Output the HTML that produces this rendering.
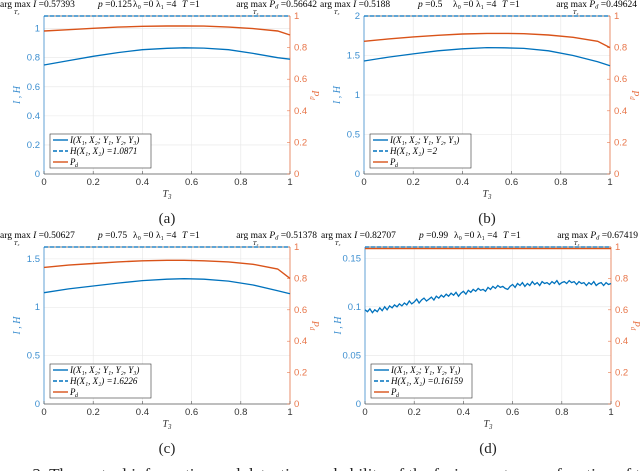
<!DOCTYPE html>
<html><head><meta charset="utf-8"><style>
html,body{margin:0;padding:0;background:#fff;width:640px;height:471px;overflow:hidden}
svg{display:block}
text{font-family:"Liberation Serif",serif}
.tk{font-family:"Liberation Sans",sans-serif;font-size:9.5px}
</style></head><body>
<svg id="fig" width="640" height="471" viewBox="0 0 640 471" xmlns="http://www.w3.org/2000/svg">
<text x="320" y="480" font-size="17" text-anchor="middle" fill="#222">Figure 3. The mutual information and detection probability of the fusion center as a function of the</text>
</svg>
<script>
const xsA=[0,0.1,0.2,0.3,0.4,0.5,0.57,0.65,0.75,0.85,0.95,1];
const iA=[0.75,0.78,0.81,0.835,0.855,0.865,0.868,0.866,0.855,0.83,0.80,0.79];
const pA=[0.905,0.913,0.922,0.93,0.935,0.937,0.937,0.936,0.93,0.92,0.905,0.88];
const iB=[1.43,1.48,1.52,1.56,1.585,1.6,1.598,1.59,1.56,1.5,1.42,1.37];
const pB=[0.84,0.855,0.868,0.878,0.886,0.89,0.89,0.888,0.88,0.865,0.84,0.80];
const iC=[1.15,1.19,1.22,1.25,1.275,1.29,1.295,1.29,1.27,1.23,1.17,1.14];
const pC=[0.87,0.885,0.895,0.905,0.912,0.915,0.915,0.912,0.905,0.89,0.86,0.80];
const xsD=[0,0.01,0.02,0.03,0.04,0.05,0.06,0.07,0.08,0.09,0.1,0.11,0.12,0.13,0.14,0.15,0.16,0.17,0.18,0.19,0.2,0.21,0.22,0.23,0.24,0.25,0.26,0.27,0.28,0.29,0.3,0.31,0.32,0.33,0.34,0.35,0.36,0.37,0.38,0.39,0.4,0.41,0.42,0.43,0.44,0.45,0.46,0.47,0.48,0.49,0.5,0.51,0.52,0.53,0.54,0.55,0.56,0.57,0.58,0.59,0.6,0.61,0.62,0.63,0.64,0.65,0.66,0.67,0.68,0.69,0.7,0.71,0.72,0.73,0.74,0.75,0.76,0.77,0.78,0.79,0.8,0.81,0.82,0.83,0.84,0.85,0.86,0.87,0.88,0.89,0.9,0.91,0.92,0.93,0.94,0.95,0.96,0.97,0.98,0.99,1];
const iD=[0.097,0.095,0.098,0.094,0.097,0.095,0.099,0.096,0.1,0.097,0.101,0.099,0.102,0.1,0.103,0.101,0.104,0.102,0.106,0.103,0.105,0.108,0.104,0.107,0.109,0.106,0.108,0.11,0.107,0.111,0.109,0.112,0.11,0.113,0.111,0.114,0.112,0.115,0.111,0.114,0.116,0.113,0.117,0.115,0.118,0.116,0.119,0.117,0.118,0.116,0.12,0.118,0.121,0.119,0.122,0.12,0.121,0.119,0.118,0.121,0.123,0.12,0.124,0.122,0.125,0.121,0.124,0.122,0.126,0.123,0.125,0.122,0.126,0.124,0.125,0.123,0.126,0.124,0.127,0.123,0.125,0.126,0.124,0.127,0.125,0.126,0.123,0.126,0.124,0.125,0.122,0.125,0.123,0.126,0.122,0.124,0.125,0.122,0.125,0.123,0.124];
const xsD2=[0,0.1,0.2,0.3,0.4,0.5,0.6,0.7,0.8,0.9,1];
const pD=[0.99,0.99,0.99,0.99,0.99,0.99,0.99,0.99,0.99,0.99,0.99];
const panels=[
 {id:'a',x0:44,x1:290,y0:16,y1:174,ymax:1.0871,yt:[0,0.2,0.4,0.6,0.8,1],yl:['0','0.2','0.4','0.6','0.8','1'],xs:xsA,I:iA,pxs:xsA,P:pA,title:['0.57393','0.125','0.56642'],H:'1.0871',cap:'(a)'},
 {id:'b',x0:364,x1:610,y0:16,y1:174,ymax:2,yt:[0,0.5,1,1.5,2],yl:['0','0.5','1','1.5','2'],xs:xsA,I:iB,pxs:xsA,P:pB,title:['0.5188','0.5','0.49624'],H:'2',cap:'(b)'},
 {id:'c',x0:44,x1:290,y0:247,y1:404,ymax:1.6226,yt:[0,0.5,1,1.5],yl:['0','0.5','1','1.5'],xs:xsA,I:iC,pxs:xsA,P:pC,title:['0.50627','0.75','0.51378'],H:'1.6226',cap:'(c)'},
 {id:'d',x0:365,x1:611,y0:247,y1:404,ymax:0.16159,yt:[0,0.05,0.1,0.15],yl:['0','0.05','0.1','0.15'],xs:xsD,I:iD,pxs:xsD2,P:pD,title:['0.82707','0.99','0.67419'],H:'0.16159',cap:'(d)'}
];
const xt=[0,0.2,0.4,0.6,0.8,1],xl=['0','0.2','0.4','0.6','0.8','1'],rt=[0,0.2,0.4,0.6,0.8,1],rl=['0','0.2','0.4','0.6','0.8','1'];
const NS='http://www.w3.org/2000/svg',svg=document.getElementById('fig');
function mk(t,a,p,txt){const e=document.createElementNS(NS,t);for(const k in a)e.setAttribute(k,a[k]);if(txt!==undefined)e.textContent=txt;(p||svg).appendChild(e);return e;}
const BL='#0072BD',OR='#D95319',BLT='#3d8fd0',ORT='#e8764a';
panels.forEach(p=>{
 const g=mk('g',{});
 
 
 const X=v=>p.x0+v*(p.x1-p.x0), YL=v=>p.y1-v/p.ymax*(p.y1-p.y0), YR=v=>p.y1-v*(p.y1-p.y0);
 xt.forEach(v=>{const l=mk('line',{x1:X(v),x2:X(v),y1:p.y0,y2:p.y1,stroke:'#e6e6e6','stroke-width':0.6},g);});
 p.yt.forEach(v=>{const l=mk('line',{x1:p.x0,x2:p.x1,y1:YL(v),y2:YL(v),stroke:'#e6e6e6','stroke-width':0.6},g);});
 mk('line',{x1:p.x0,x2:p.x1,y1:p.y1,y2:p.y1,stroke:'#555','stroke-width':0.8},g);
 mk('line',{x1:p.x0,x2:p.x1,y1:p.y0,y2:p.y0,stroke:'#555','stroke-width':0.8},g);
 mk('line',{x1:p.x0,x2:p.x0,y1:p.y0,y2:p.y1,stroke:BLT,'stroke-width':0.8},g);
 mk('line',{x1:p.x1,x2:p.x1,y1:p.y0,y2:p.y1,stroke:ORT,'stroke-width':0.8},g);
 xt.forEach((v,i)=>{mk('line',{x1:X(v),x2:X(v),y1:p.y1,y2:p.y1-3,stroke:'#555','stroke-width':0.6},g);
  const t=mk('text',{x:X(v),y:p.y1+11,'text-anchor':'middle',class:'tk',fill:'#333'},g,xl[i]);});
 p.yt.forEach((v,i)=>{const t=mk('text',{x:p.x0-4,y:YL(v)+3,'text-anchor':'end',class:'tk',fill:BLT},g,p.yl[i]);});
 rt.forEach((v,i)=>{mk('line',{x1:p.x1,x2:p.x1-3,y1:YR(v),y2:YR(v),stroke:ORT,'stroke-width':0.6},g);
  const t=mk('text',{x:p.x1+4,y:YR(v)+3,class:'tk',fill:ORT},g,rl[i]);});
 let t=mk('text',{x:(p.x0+p.x1)/2,y:p.y1+23,'text-anchor':'middle','font-size':10,'font-style':'italic',fill:'#333'},g,'T');mk('tspan',{'font-size':7,dy:2},t,'3');
 
 t=mk('text',{transform:`translate(${p.x0-24},${(p.y0+p.y1)/2}) rotate(-90)`,'text-anchor':'middle','font-size':10,'font-style':'italic',fill:BLT},g,'I , H');
 
 t=mk('text',{transform:`translate(${p.x1+22},${(p.y0+p.y1)/2}) rotate(90)`,'text-anchor':'middle','font-size':10,'font-style':'italic',fill:ORT},g,'P');mk('tspan',{'font-size':7,dy:2},t,'d');
 
 const hl=mk('line',{x1:p.x0,x2:p.x1,y1:YL(p.ymax),y2:YL(p.ymax),stroke:BL,'stroke-width':1.3,'stroke-dasharray':'4,2'},g);
 
 const pd=mk('path',{d:p.pxs.map((v,i)=>(i?'L':'M')+X(v).toFixed(1)+','+YR(p.P[i]).toFixed(1)).join(''),fill:'none',stroke:OR,'stroke-width':1.4},g);
 
 const il=mk('path',{d:p.xs.map((v,i)=>(i?'L':'M')+X(v).toFixed(1)+','+YL(p.I[i]).toFixed(1)).join(''),fill:'none',stroke:BL,'stroke-width':1.3},g);
 
 const lx=p.x0+6,ly=p.y1-40;
 const lg=mk('g',{},g);
 mk('rect',{x:lx,y:ly,width:101,height:34,fill:'#fff',stroke:'#333','stroke-width':0.6},lg);
 mk('line',{x1:lx+3,x2:lx+18,y1:ly+6,y2:ly+6,stroke:BL,'stroke-width':1.4},lg);
 mk('line',{x1:lx+3,x2:lx+18,y1:ly+17,y2:ly+17,stroke:BL,'stroke-width':1.4,'stroke-dasharray':'4,2'},lg);
 mk('line',{x1:lx+3,x2:lx+18,y1:ly+28,y2:ly+28,stroke:OR,'stroke-width':1.4},lg);
 mk('text',{x:lx+20,y:ly+9,'font-size':9,'font-style':'italic'},lg,'I(X₁, X₂; Y₁, Y₂, Y₃)');
 mk('text',{x:lx+20,y:ly+20,'font-size':9,'font-style':'italic'},lg,'H(X₁, X₂) =' +p.H);
 mk('text',{x:lx+20,y:ly+31,'font-size':9,'font-style':'italic'},lg,'P');
 mk('text',{x:lx+25,y:ly+33,'font-size':6,'font-style':'italic'},lg,'d');
 const ty=p.y0-9, tg=mk('g',{},g);
 const o=p.x0, fs=9.5;
 let tt=mk('text',{x:o-44,y:ty,'font-size':fs},tg);
 mk('tspan',{},tt,'arg max ');mk('tspan',{'font-style':'italic'},tt,'I');mk('tspan',{},tt,' =' +p.title[0]);
 tt=mk('text',{x:o+54,y:ty,'font-size':fs},tg);mk('tspan',{'font-style':'italic'},tt,'p');mk('tspan',{},tt,' =' +p.title[1]);
 mk('text',{x:o+89,y:ty,'font-size':fs},tg,'λ₀ =0');
 mk('text',{x:o+112,y:ty,'font-size':fs},tg,'λ₁ =4');
 tt=mk('text',{x:o+138,y:ty,'font-size':fs},tg);mk('tspan',{'font-style':'italic'},tt,'T');mk('tspan',{},tt,' =1');
 tt=mk('text',{x:p.x1+27,y:ty,'font-size':fs,'text-anchor':'end'},tg);
 mk('tspan',{},tt,'arg max ');mk('tspan',{'font-style':'italic'},tt,'P');
 mk('tspan',{'font-size':6.5,'font-style':'italic',dy:1.5},tt,'d');mk('tspan',{dy:-1.5},tt,' =' +p.title[2]);
 mk('text',{x:o-30,y:ty+7,'font-size':6,'font-style':'italic'},tg,'T₃');
 mk('text',{x:p.x1-37,y:ty+7,'font-size':6,'font-style':'italic'},tg,'T₃');
 const c=mk('text',{x:(p.x0+p.x1)/2,y:p.y1+49,'text-anchor':'middle','font-size':15,fill:'#222'},g,p.cap);
 
});
</script>
</body></html>
